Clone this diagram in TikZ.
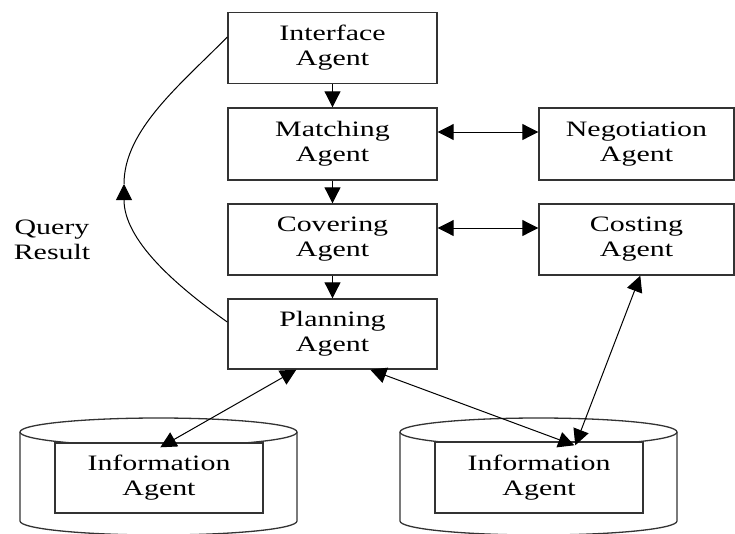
\documentclass[tikz,border=0pt]{standalone}
\usepackage{fontspec}
\setmainfont[FakeStretch=1.36]{Liberation Serif}
\usetikzlibrary{arrows.meta}
\begin{document}
\begin{tikzpicture}[x=1pt,y=-1pt,
  agent/.style={draw=black!80,line width=1.4pt,fill=white,inner sep=0pt,align=center,font=\fontsize{22}{25}\selectfont},
  lbl/.style={align=center,inner sep=0pt,font=\fontsize{22}{25}\selectfont},
  can/.style={draw=black!80,line width=1.3pt},
  link/.style={draw=black,line width=1pt},
  tip/.style={-{Triangle[length=16pt,width=16pt]}},
  both/.style={{Triangle[length=16pt,width=16pt]}-{Triangle[length=16pt,width=16pt]}}
]
\useasboundingbox (0,0) rectangle (735,533);
% cylinders
\draw[can] (158.5,432) ellipse [x radius=138.5pt, y radius=14pt];
\draw[can] (20,432) -- (20,521) arc[start angle=180,end angle=360,x radius=138.5pt,y radius=14pt] -- (297,432);
\draw[can] (538.5,432) ellipse [x radius=138.5pt, y radius=14pt];
\draw[can] (400,432) -- (400,521) arc[start angle=180,end angle=360,x radius=138.5pt,y radius=14pt] -- (677,432);
% agents
\node[agent,minimum width=209pt,minimum height=71pt] (inter) at (332.5,48) {Interface\\Agent};
\node[agent,minimum width=209pt,minimum height=72pt] (match) at (332.5,144) {Matching\\Agent};
\node[agent,minimum width=209pt,minimum height=71pt] (cover) at (332.5,239.5) {Covering\\Agent};
\node[agent,minimum width=209pt,minimum height=70pt] (plan) at (332.5,334) {Planning\\Agent};
\node[agent,minimum width=195pt,minimum height=72pt] (neg) at (636.5,144) {Negotiation\\Agent};
\node[agent,minimum width=195pt,minimum height=71pt] (cost) at (636.5,239.5) {Costing\\Agent};
\node[agent,minimum width=208pt,minimum height=70pt] (info1) at (159,478) {Information\\Agent};
\node[agent,minimum width=208pt,minimum height=71pt] (info2) at (539,477.5) {Information\\Agent};
\node[lbl] (qr) at (52,240) {Query\\Result};
% connectors
\draw[link,tip] (inter) -- (match);
\draw[link,tip] (match) -- (cover);
\draw[link,tip] (cover) -- (plan);
\draw[link,both] ([yshift=12pt]match.east) -- ([yshift=12pt]neg.west);
\draw[link,both] ([yshift=11.5pt]cover.east) -- ([yshift=11.5pt]cost.west);
\draw[link,both] ([xshift=69pt]plan.south west) -- ([xshift=106pt,yshift=-5pt]info1.north west);
\draw[link,both] ([xshift=143pt]plan.south west) -- ([xshift=140pt,yshift=-4pt]info2.north west);
\draw[link,both] ([xshift=102pt]cost.south west) -- ([xshift=141pt,yshift=-4pt]info2.north west);
\coordinate (qtip) at (124,184);
\draw[link,tip] ([yshift=12pt]plan.west) .. controls (175,285) and (124,240) .. (qtip);
\draw[link] (qtip) .. controls (124,130) and (180,85) .. ([yshift=11pt]inter.west);
\end{tikzpicture}
\end{document}
